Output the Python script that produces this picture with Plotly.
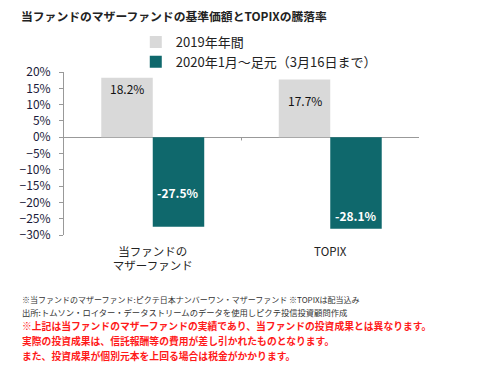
import plotly.graph_objects as go

categories = ["当ファンドの<br>マザーファンド", "TOPIX"]
series_names = ["2019年年間", "2020年1月～足元（3月16日まで）"]
values_2019 = [18.2, 17.7]
values_2020 = [-27.5, -28.1]
label_2019 = ["18.2%", "17.7%"]
label_2020 = ["-27.5%", "-28.1%"]
tick_vals = [20, 15, 10, 5, 0, -5, -10, -15, -20, -25, -30]
tick_text = ["20%", "15%", "10%", "5%", "0%", "−5%", "−10%", "−15%", "−20%", "−25%", "−30%"]

# label vertical positions (style, data units)
label_pos_2019 = [15.0, 11.3]
label_pos_2020 = [-16.9, -23.9]

GRAY = "#d9d9d9"
TEAL = "#0f686c"
JP = "Noto Sans CJK JP, Noto Sans, sans-serif"

OFF = 8  # page body margin
W, H = 496 - OFF, 369 - OFF
L, R, T, B = 53 - OFF, 77, 72 - OFF, 134
ph = H - T - B
pw = W - L - R

def py(p):
    return (H - B - (p - OFF)) / ph

def px(p):
    return ((p - OFF) - L) / pw

fig = go.Figure()
fig.add_trace(go.Bar(x=[0, 1], y=values_2019, name=series_names[0],
                     marker=dict(color=GRAY, line=dict(width=0))))
fig.add_trace(go.Bar(x=[0, 1], y=values_2020, name=series_names[1],
                     marker=dict(color=TEAL, line=dict(width=0))))

ann = []
bw = 0.29
for i in range(2):
    ann.append(dict(x=i - bw / 2, y=label_pos_2019[i], xref="x", yref="y",
                    text=label_2019[i], showarrow=False,
                    font=dict(family=JP, size=12, color="#111")))
    ann.append(dict(x=i + bw / 2, y=label_pos_2020[i], xref="x", yref="y",
                    text="<b>" + label_2020[i] + "</b>", showarrow=False,
                    font=dict(family=JP, size=12, color="white")))

notes = [
    ("※当ファンドのマザーファンド:ピクテ日本ナンバーワン・マザーファンド ※TOPIXは配当込み", 299, 8.0, "#333", False),
    ("出所:トムソン・ロイター・データストリームのデータを使用しピクテ投信投資顧問作成", 312, 8.3, "#333", False),
    ("※上記は当ファンドのマザーファンドの実績であり、当ファンドの投資成果とは異なります。", 326, 9.8, "#ff1a1a", True),
    ("実際の投資成果は、信託報酬等の費用が差し引かれたものとなります。", 341, 9.8, "#ff1a1a", True),
    ("また、投資成果が個別元本を上回る場合は税金がかかります。", 356, 9.8, "#ff1a1a", True),
]
for txt, p, sz, col, bold in notes:
    ann.append(dict(x=px(8), y=py(p), xref="paper", yref="paper",
                    xanchor="left", yanchor="middle", showarrow=False,
                    text=("<b>" + txt + "</b>") if bold else txt,
                    font=dict(family=JP, size=sz, color=col)))

ann.append(dict(x=px(8), y=py(15), xref="paper", yref="paper",
                xanchor="left", yanchor="middle", showarrow=False, borderpad=0,
                text="<b>当ファンドのマザーファンドの基準価額とTOPIXの騰落率</b>",
                font=dict(family=JP, size=11.8, color="#222")))

fig.update_layout(
    width=W, height=H,
    margin=dict(l=L, r=R, t=T, b=B, pad=0),
    paper_bgcolor="white", plot_bgcolor="white",
    barmode="group", bargap=0.42, bargroupgap=0,
    showlegend=True,
    legend=dict(x=px(127), y=py(27), xanchor="left", yanchor="top",
                font=dict(family=JP, size=13, color="#222"),
                traceorder="normal", tracegroupgap=0, itemwidth=30,
                bgcolor="rgba(0,0,0,0)"),
    annotations=ann,
    shapes=[dict(type="line", xref="x", yref="y", x0=0.5, x1=0.5, y0=0, y1=-1,
                 line=dict(color="#999", width=1))],
    xaxis=dict(tickmode="array", tickvals=[0, 1], ticktext=categories,
               range=[-0.5, 1.5], showline=False, showgrid=False, zeroline=False,
               ticks="", ticklabelstandoff=8,
               tickfont=dict(family=JP, size=11.5, color="#222")),
    yaxis=dict(range=[-30, 20], tickmode="array", tickvals=tick_vals, ticktext=tick_text,
               showgrid=False, zeroline=True, zerolinecolor="#999",
               zerolinewidth=1, showline=True, linecolor="#999", linewidth=1,
               ticks="outside", ticklen=4, tickcolor="#999", ticklabelstandoff=6,
               tickfont=dict(family=JP, size=12, color="#1a1a3a")),
)
fig.write_html("out.html")
